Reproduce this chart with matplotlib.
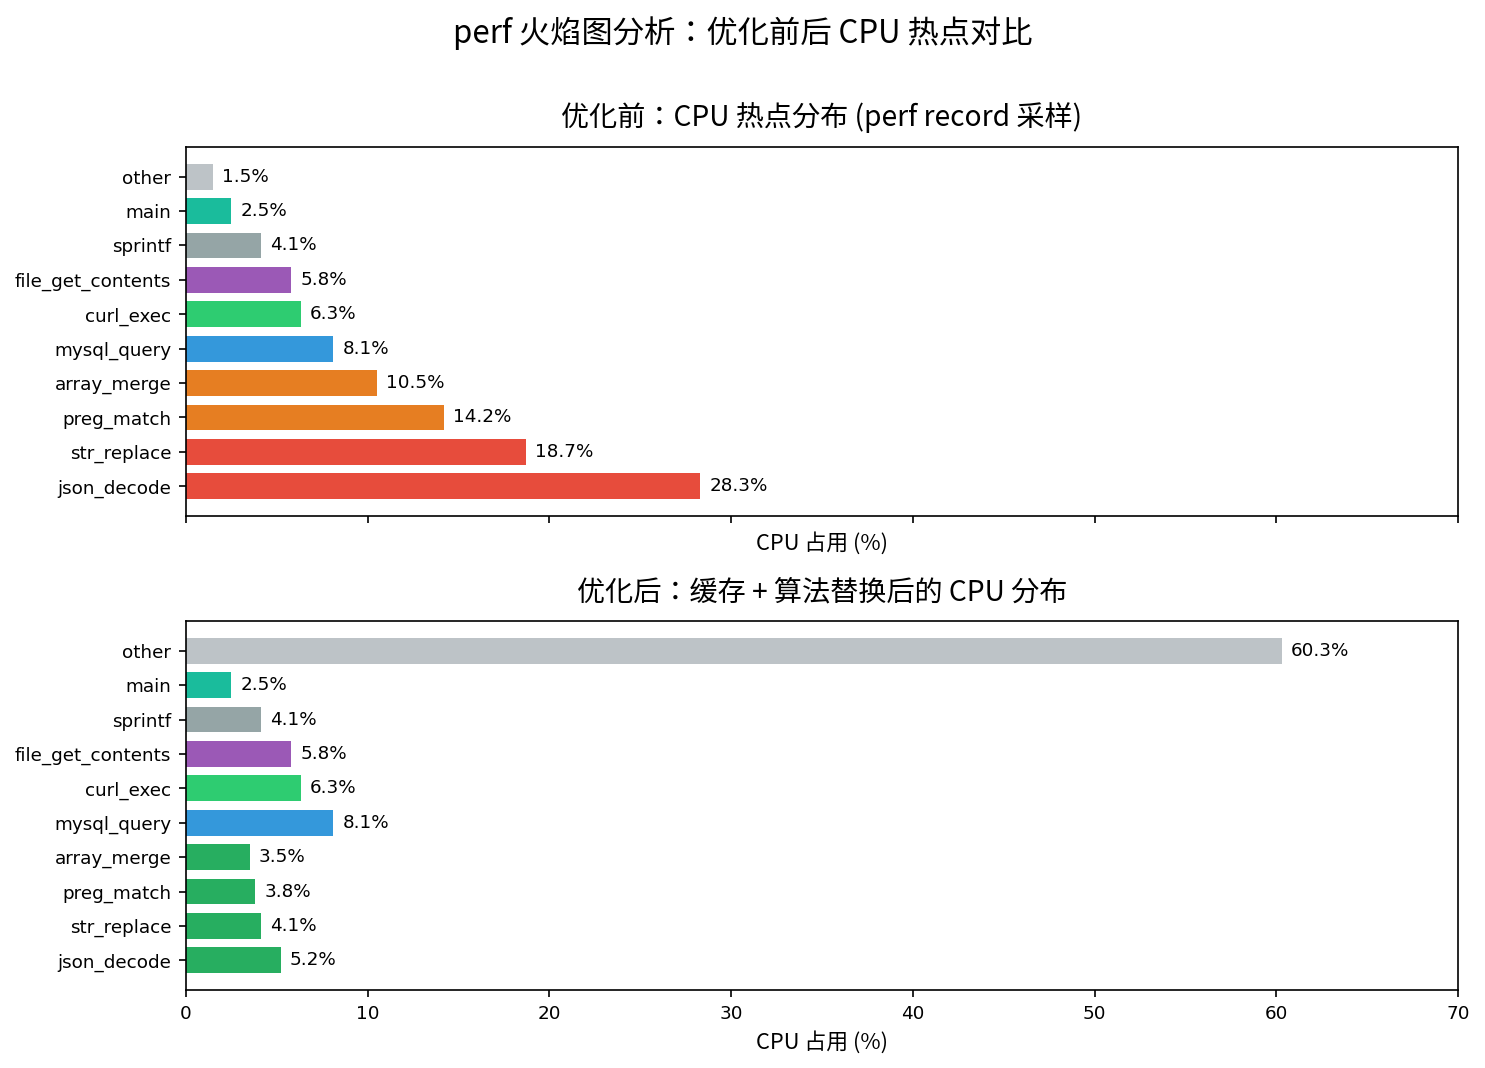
import matplotlib
matplotlib.use('Agg')
import matplotlib.pyplot as plt

plt.rcParams['font.family'] = ['DejaVu Sans', 'Noto Sans CJK JP']
CJK = ['Noto Sans CJK JP', 'DejaVu Sans']

funcs = ['json_decode', 'str_replace', 'preg_match', 'array_merge', 'mysql_query',
         'curl_exec', 'file_get_contents', 'sprintf', 'main', 'other']
before = [28.3, 18.7, 14.2, 10.5, 8.1, 6.3, 5.8, 4.1, 2.5, 1.5]
after = [5.2, 4.1, 3.8, 3.5, 8.1, 6.3, 5.8, 4.1, 2.5, 60.3]

RED = '#e74c3c'; ORANGE = '#e67e22'; BLUE = '#3498db'; GREEN = '#2ecc71'
PURPLE = '#9b59b6'; GRAY = '#95a5a6'; TEAL = '#1abc9c'; LGRAY = '#bdc3c7'; DGREEN = '#27ae60'
colors_before = [RED, RED, ORANGE, ORANGE, BLUE, GREEN, PURPLE, GRAY, TEAL, LGRAY]
colors_after = [DGREEN, DGREEN, DGREEN, DGREEN, BLUE, GREEN, PURPLE, GRAY, TEAL, LGRAY]

fig, axes = plt.subplots(2, 1, figsize=(9.9, 7.12), dpi=150, sharex=True)
fig.subplots_adjust(left=0.1253, right=0.9818, top=0.8624, bottom=0.073, hspace=0.285)

panels = [
    (axes[0], before, colors_before, '优化前：CPU 热点分布 (perf record 采样)'),
    (axes[1], after, colors_after, '优化后：缓存 + 算法替换后的 CPU 分布'),
]
for ax, vals, cols, title in panels:
    bars = ax.barh(funcs, vals, color=cols, height=0.75)
    for b, v in zip(bars, vals):
        ax.text(v + 0.5, b.get_y() + b.get_height() / 2, f'{v}%',
                va='center', ha='left', fontsize=8.8)
    ax.set_xlim(0, 70)
    ax.set_xlabel('CPU 占用 (%)', fontsize=10.5, family=CJK)
    ax.set_title(title, fontsize=13.5, pad=10, family=CJK)
    ax.tick_params(labelsize=8.8)

fig.suptitle('perf 火焰图分析：优化前后 CPU 热点对比', fontsize=15, y=0.985, family=CJK)
fig.savefig('out.png', dpi=150)
